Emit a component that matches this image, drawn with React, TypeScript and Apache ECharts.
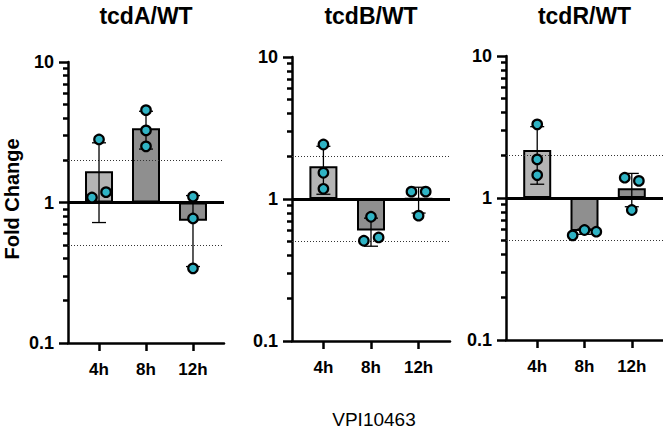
import React, { useEffect, useRef } from 'react';
import * as echarts from 'echarts';

// ---- data ----
const categories = ['4h', '8h', '12h'];
const panelTitles = ['tcdA/WT', 'tcdB/WT', 'tcdR/WT'];
const xAxisTitle = 'VPI10463';
const yAxisTitle = 'Fold Change';

const tcdAMeans = [1.67, 3.38, 0.74];
const tcdAErrLow = [0.72, 2.4, 0.35];
const tcdAErrHigh = [2.66, 4.46, 1.12];
const tcdAPoints = [[2.81, 1.085, 1.185], [4.54, 3.26, 2.51], [1.1, 0.77, 0.34]];

const tcdBMeans = [1.7, 0.6, 1.005];
const tcdBErrLow = [1.08, 0.465, 0.796];
const tcdBErrHigh = [2.35, 0.733, 1.21];
const tcdBPoints = [[2.42, 1.53, 1.18], [0.75, 0.508, 0.536], [1.126, 1.126, 0.763]];

const tcdRMeans = [2.18, 0.585, 1.17];
const tcdRErrLow = [1.25, 0.555, 0.868];
const tcdRErrHigh = [3.18, 0.605, 1.49];
const tcdRPoints = [[3.3, 1.87, 1.45], [0.546, 0.595, 0.579], [1.39, 1.32, 0.823]];

// horizontal scatter of replicate dots (in category units)
const tcdAJitter = [[0, -0.15, 0.15], [0, 0, 0], [0, 0, 0]];
const tcdBJitter = [[0, 0, 0], [0, -0.15, 0.16], [-0.15, 0.15, 0]];
const tcdRJitter = [[0, 0, 0], [-0.25, 0, 0.25], [-0.15, 0.15, 0]];

const yMajorTicks = [0.1, 1, 10];
const yMinorTicks = [0.2, 0.3, 0.4, 0.5, 0.6, 0.7, 0.8, 0.9, 2, 3, 4, 5, 6, 7, 8, 9];
const referenceLines = [0.5, 2];
const baselineValue = 1;

// ---- layout / style ----
const FONT = '"Liberation Sans", Arial, Helvetica, sans-serif';
const gridsPx = [
  { left: 68, top: 62, width: 156, height: 281 },
  { left: 292, top: 57, width: 158, height: 284 },
  { left: 506, top: 56, width: 157, height: 284 },
];
const LIGHT = '#b4b4b4';
const DARK = '#8f8f8f';
const DOT = '#2fb3c4';

const panels = [
  { means: tcdAMeans, lo: tcdAErrLow, hi: tcdAErrHigh, pts: tcdAPoints, jit: tcdAJitter },
  { means: tcdBMeans, lo: tcdBErrLow, hi: tcdBErrHigh, pts: tcdBPoints, jit: tcdBJitter },
  { means: tcdRMeans, lo: tcdRErrLow, hi: tcdRErrHigh, pts: tcdRPoints, jit: tcdRJitter },
];

function buildOption() {
  const grid: any[] = [];
  const xAxis: any[] = [];
  const yAxis: any[] = [];
  const series: any[] = [];
  const graphic: any[] = [];

  panels.forEach((p, i) => {
    const g = gridsPx[i];
    grid.push({ ...g, containLabel: false });
    xAxis.push({
      type: 'value',
      gridIndex: i,
      min: -0.66,
      max: 2.66,
      position: 'bottom',
      axisLine: { show: true, onZero: false, lineStyle: { color: '#000', width: 2.5 } },
      axisTick: { show: true, length: 8, customValues: [0, 1, 2], lineStyle: { color: '#000', width: 2.5 } },
      axisLabel: {
        customValues: [0, 1, 2],
        formatter: (v: number) => categories[Math.round(v)] ?? '',
        color: '#000',
        fontWeight: 'bold',
        fontSize: 17,
        fontFamily: FONT,
        margin: 18,
      },
      splitLine: { show: false },
    });
    yAxis.push({
      type: 'log',
      logBase: 10,
      gridIndex: i,
      min: 0.1,
      max: 10,
      position: 'left',
      offset: 0,
      axisLine: { show: true, onZero: false, lineStyle: { color: '#000', width: 2.5 } },
      axisTick: { show: true, length: 9, customValues: yMajorTicks, lineStyle: { color: '#000', width: 2.5 } },
      axisLabel: {
        customValues: yMajorTicks,
        formatter: (v: number) => (v < 1 ? v.toFixed(1) : String(Math.round(v))),
        color: '#000',
        fontWeight: 'bold',
        fontSize: 18,
        fontFamily: FONT,
        margin: 14,
      },
      splitLine: { show: false },
    });
    yAxis.push({
      type: 'log',
      logBase: 10,
      gridIndex: i,
      min: 0.1,
      max: 10,
      position: 'left',
      offset: 0,
      axisLine: { show: false, onZero: false },
      axisTick: { show: true, length: 5, customValues: yMinorTicks, lineStyle: { color: '#000', width: 2.5 } },
      axisLabel: { show: false },
      splitLine: { show: false },
    });

    series.push({
      type: 'bar',
      xAxisIndex: i,
      yAxisIndex: i * 2,
      barWidth: 28,
      z: 2,
      data: p.means.map((m, j) => ({
        value: [j, m],
        itemStyle: { color: j === 0 ? LIGHT : DARK },
      })),
      itemStyle: { borderColor: '#000', borderWidth: 2 },
      markLine: {
        silent: true,
        symbol: 'none',
        label: { show: false },
        z: 3,
        data: [
          ...referenceLines.map((r) => ({
            yAxis: r,
            lineStyle: { color: '#333', width: 1, type: [1, 2] },
          })),
          { yAxis: baselineValue, lineStyle: { color: '#000', width: 3, type: 'solid' } },
        ],
      },
    });

    series.push({
      type: 'custom',
      xAxisIndex: i,
      yAxisIndex: i * 2,
      z: 4,
      encode: { x: 0, y: [1, 2] },
      data: p.means.map((_, j) => [j, p.lo[j], p.hi[j]]),
      renderItem: (params: any, api: any) => {
        const x = api.value(0);
        const a = api.coord([x, api.value(1)]);
        const b = api.coord([x, api.value(2)]);
        const cap = 7;
        const style = { stroke: '#000', lineWidth: 1.3 };
        return {
          type: 'group',
          children: [
            { type: 'line', shape: { x1: a[0], y1: a[1], x2: b[0], y2: b[1] }, style },
            { type: 'line', shape: { x1: a[0] - cap, y1: a[1], x2: a[0] + cap, y2: a[1] }, style },
            { type: 'line', shape: { x1: b[0] - cap, y1: b[1], x2: b[0] + cap, y2: b[1] }, style },
          ],
        };
      },
    });

    const dots: number[][] = [];
    p.pts.forEach((arr, j) => arr.forEach((v, k) => dots.push([j + p.jit[j][k], v])));
    series.push({
      type: 'scatter',
      xAxisIndex: i,
      yAxisIndex: i * 2,
      z: 5,
      symbol: 'circle',
      symbolSize: 9.5,
      itemStyle: { color: DOT, borderColor: '#000', borderWidth: 2.2, opacity: 1 },
      data: dots,
    });

    graphic.push({
      type: 'text',
      x: g.left + g.width / 2,
      y: 16,
      style: {
        text: panelTitles[i],
        fill: '#000',
        font: `bold 23px ${FONT}`,
        textAlign: 'center',
        textVerticalAlign: 'middle',
      },
    });
  });

  graphic.push({
    type: 'text',
    x: 12,
    y: 199,
    rotation: Math.PI / 2,
    style: {
      text: yAxisTitle,
      fill: '#000',
      font: `bold 20px ${FONT}`,
      textAlign: 'center',
      textVerticalAlign: 'middle',
    },
  });
  graphic.push({
    type: 'text',
    x: 374,
    y: 419,
    style: {
      text: xAxisTitle,
      fill: '#000',
      font: `19px ${FONT}`,
      textAlign: 'center',
      textVerticalAlign: 'middle',
    },
  });

  return {
    animation: false,
    backgroundColor: '#fff',
    grid,
    xAxis,
    yAxis,
    series,
    graphic,
  };
}

export default function App() {
  const ref = useRef<HTMLDivElement>(null);
  useEffect(() => {
    if (!ref.current) return;
    const chart = echarts.init(ref.current, undefined, { renderer: 'svg' });
    chart.setOption(buildOption() as any);
    return () => chart.dispose();
  }, []);
  return (
    <div
      ref={ref}
      style={{ position: 'fixed', left: 0, top: 0, width: 663, height: 428, background: '#fff' }}
    />
  );
}
